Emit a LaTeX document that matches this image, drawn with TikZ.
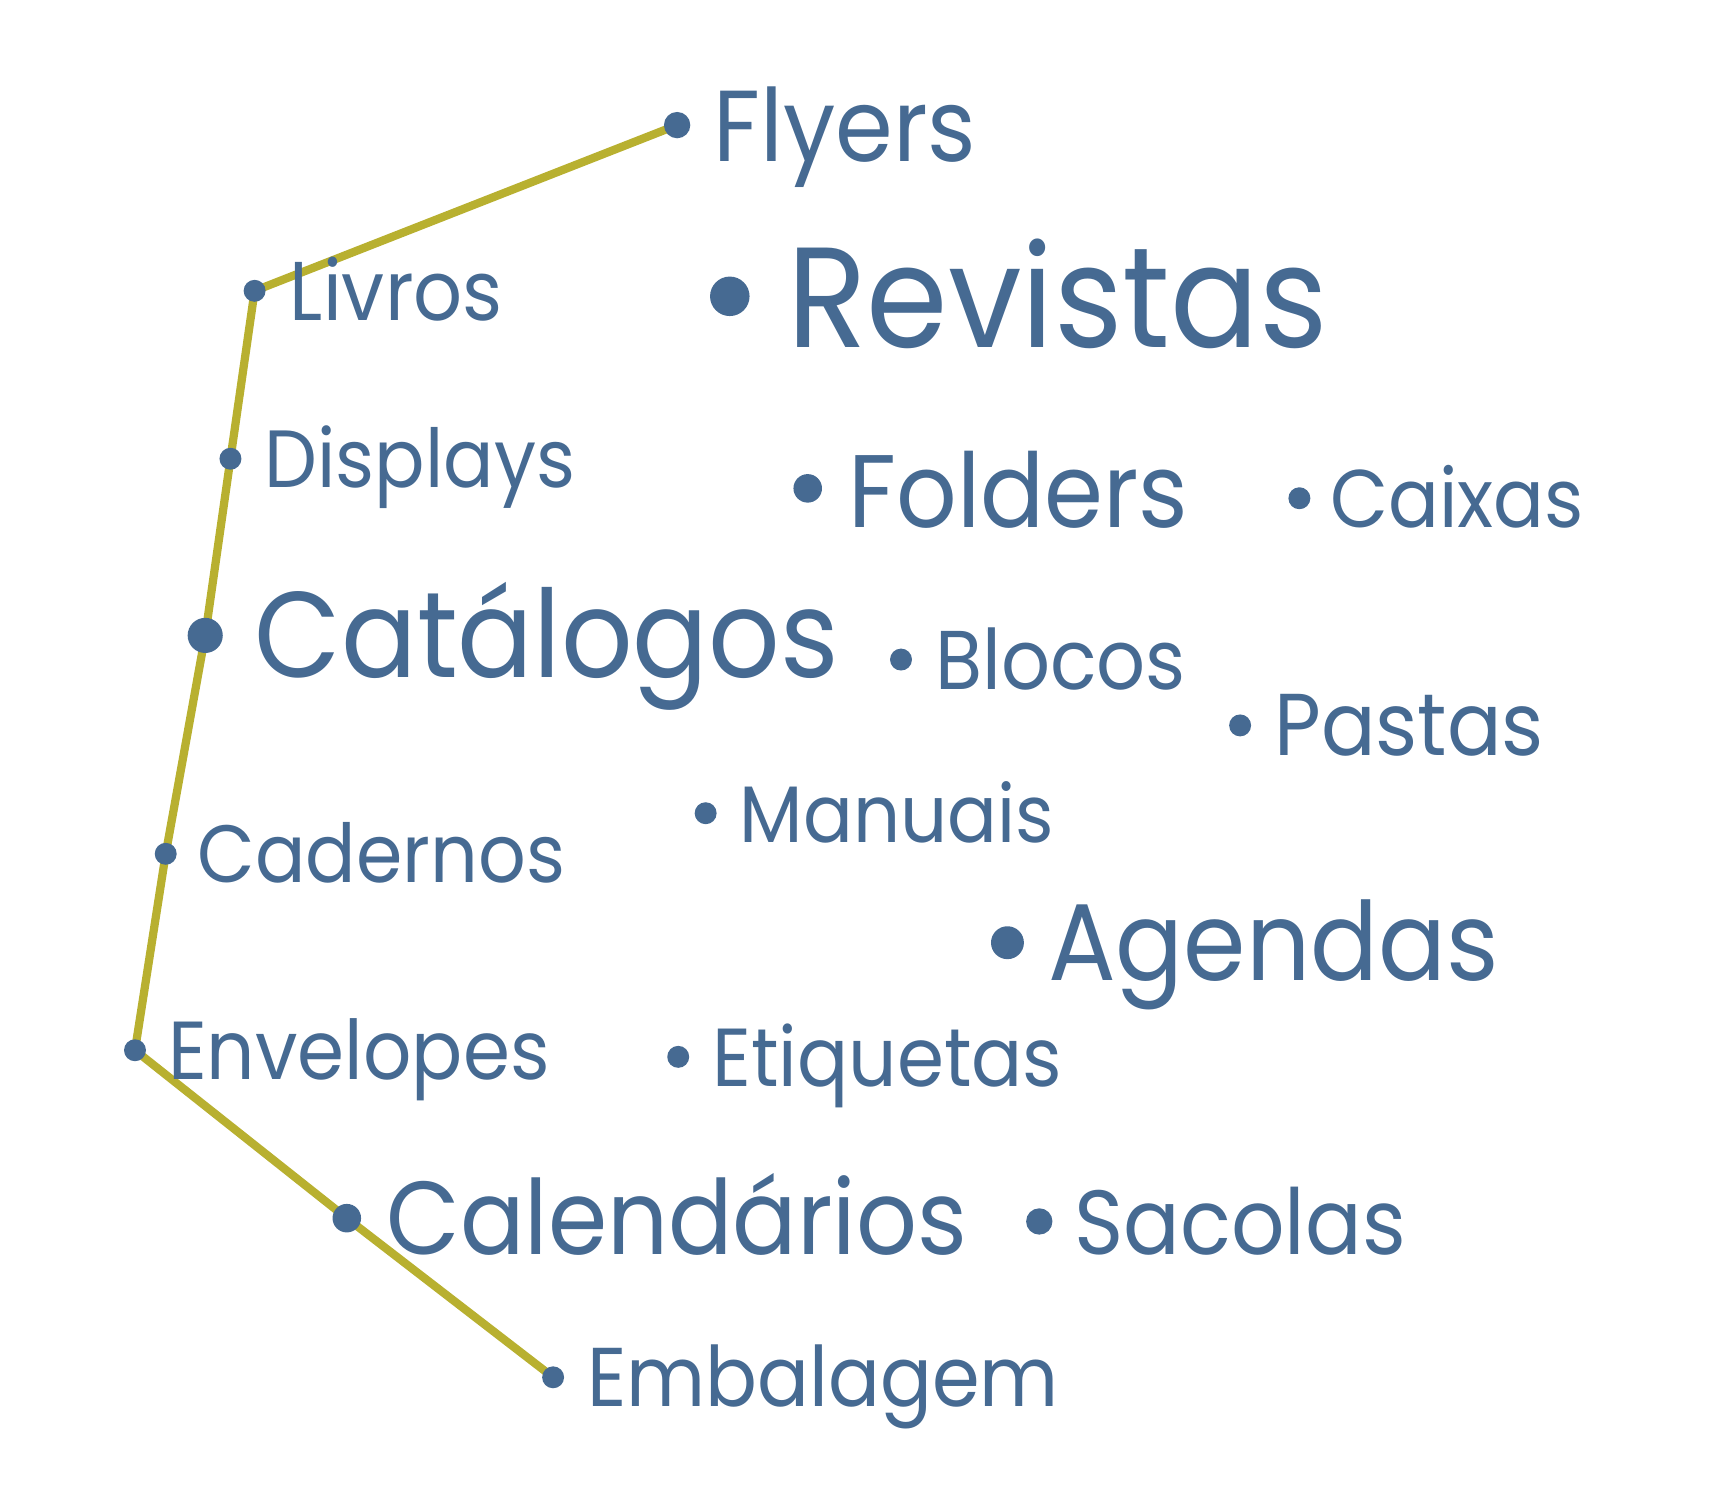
\documentclass[tikz,border=0pt]{standalone}
\usepackage{fontspec}
\setmainfont{Poppins}
\usetikzlibrary{backgrounds}
\definecolor{wordblue}{HTML}{466A92}
\definecolor{olive}{HTML}{B8B030}
\tikzset{
  dotst/.style={circle, fill=wordblue, inner sep=0pt, draw=none},
  wordst/.style={anchor=base west, inner sep=0pt, text=wordblue, xscale=0.92},
  linkst/.style={draw=olive, line width=7.5pt, line join=round, line cap=round}
}
\newcommand{\wordat}[8]{%
  \node[dotst, minimum size=#4pt] (#1) at (#2,#3) {};
  \node[wordst, font=\fontsize{#7}{#7}\selectfont] (#1-t) at (#5,#6) {#8};
}
\begin{document}
\begin{tikzpicture}[x=1pt,y=-1pt]
\useasboundingbox (0,0) rectangle (1560,1360);
\wordat{flyers}{617}{114}{24}{650}{147}{92}{Flyers}
\wordat{livros}{232}{265}{20}{264}{292}{76}{Livros}
\wordat{revistas}{665}{270}{36}{717}{317}{130}{Revistas}
\wordat{displays}{210}{418}{20}{241}{444}{74}{Displays}
\wordat{folders}{736}{445}{26}{773}{481}{94}{Folders}
\wordat{caixas}{1184}{454}{20}{1212}{481}{74.5}{Caixas}
\wordat{catalogos}{187}{579}{32}{232}{617}{111}{Catálogos}
\wordat{blocos}{821}{601}{20}{852}{628}{76}{Blocos}
\wordat{pastas}{1130}{661}{20}{1161}{688}{80}{Pastas}
\wordat{manuais}{643}{741}{20}{674}{768}{73}{Manuais}
\wordat{cadernos}{151}{778}{20}{180}{804}{74}{Cadernos}
\wordat{agendas}{918}{859}{30}{955}{893}{99.5}{Agendas}
\wordat{envelopes}{123}{957}{20}{153}{984}{75}{Envelopes}
\wordat{etiquetas}{618}{963}{20}{649}{990}{75}{Etiquetas}
\wordat{calendarios}{316}{1110}{26}{352}{1143}{94.5}{Calendários}
\wordat{sacolas}{947}{1113}{24}{979}{1143}{83}{Sacolas}
\wordat{embalagem}{504}{1255}{20}{535}{1282}{76}{Embalagem}
\begin{pgfonlayer}{background}
\draw[linkst] (flyers.center) -- (livros.center) -- (displays.center) -- (catalogos.center) -- (cadernos.center) -- (envelopes.center) -- (calendarios.center) -- (embalagem.center);
\end{pgfonlayer}
\end{tikzpicture}
\end{document}
